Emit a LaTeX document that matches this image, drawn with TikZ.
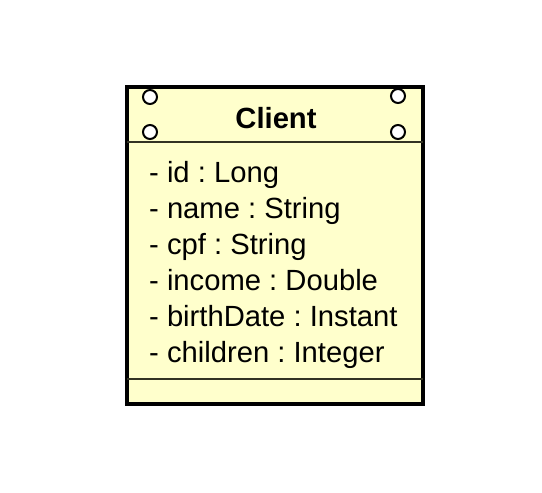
\documentclass[tikz,border=0pt]{standalone}
\usepackage{fontspec}
\setmainfont{Liberation Sans}
\definecolor{classfill}{HTML}{FFFFCC}
\definecolor{sepline}{HTML}{333322}
\frenchspacing
\begin{document}
\begin{tikzpicture}[x=1pt,y=-1pt,
  attr/.style={anchor=base west, inner sep=0pt, font=\fontsize{29.2}{34}\selectfont\frenchspacing},
  title/.style={anchor=base, inner sep=0pt, font=\fontsize{29.2}{34}\selectfont\bfseries},
  port/.style={circle, draw=black, fill=white, line width=2pt, minimum size=14pt, inner sep=0pt},
  sep/.style={draw=sepline, line width=1.6pt}]
\useasboundingbox (0,0) rectangle (542,493);
\node (box) [draw=black, fill=classfill, line width=4pt, minimum width=296pt, minimum height=317pt, inner sep=0pt] at (275,245.5) {};
\coordinate (h1l) at (127,142);
\coordinate (h1r) at (423,142);
\coordinate (h2l) at (127,379);
\coordinate (h2r) at (423,379);
\draw[sep] (h1l) -- (h1r);
\draw[sep] (h2l) -- (h2r);
\node (p1) [port] at (150,97) {};
\node (p2) [port] at (150,132) {};
\node (p3) [port] at (398,96) {};
\node (p4) [port] at (398,132) {};
\node (name) [title] at (276,128) {Client};
\node (a1) [attr] at (149,182) {- id : Long};
\node (a2) [attr] at (149,218) {- name : String};
\node (a3) [attr] at (149,254) {- cpf : String};
\node (a4) [attr] at (149,290) {- income : Double};
\node (a5) [attr] at (149,326) {- birthDate : Instant};
\node (a6) [attr] at (149,362) {- children : Integer};
\end{tikzpicture}
\end{document}
